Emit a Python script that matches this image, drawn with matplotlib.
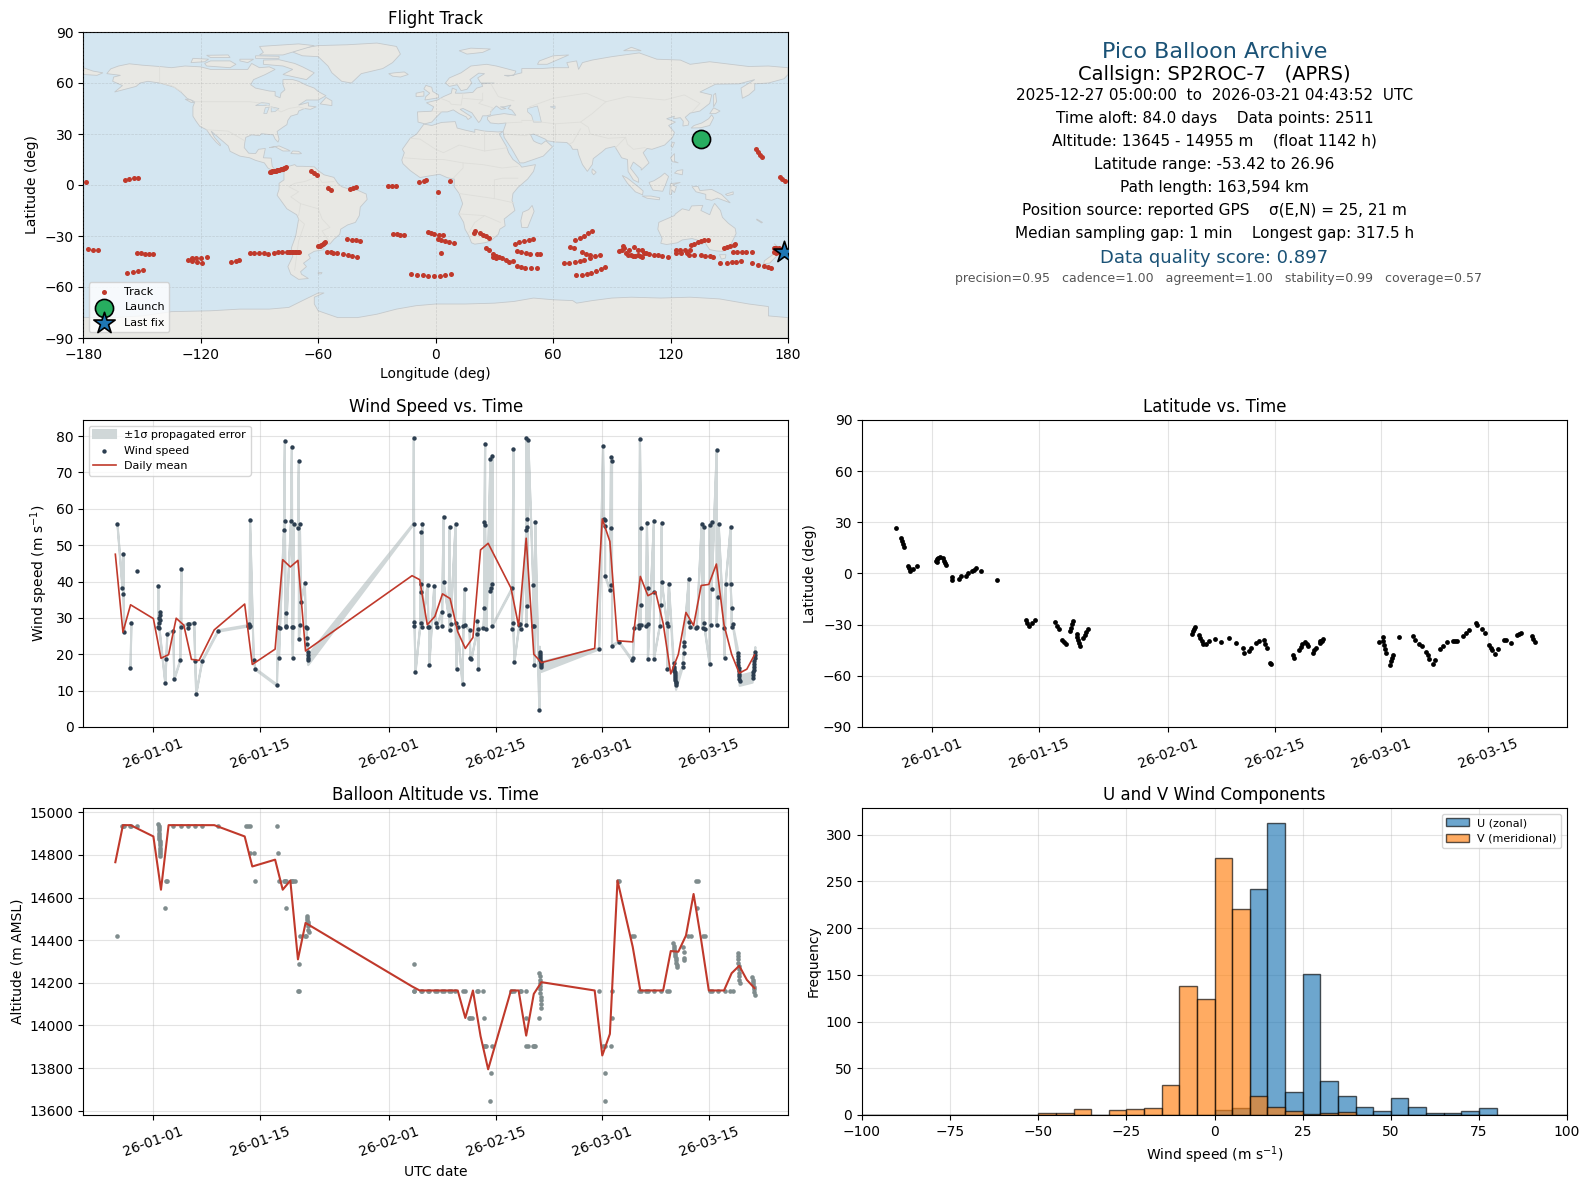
"""
plot.py
Painel de resumo do voo de um pico balloon: trajetória, vento, latitude, altitude e histograma.
"""

import numpy as np
import matplotlib
matplotlib.use('Agg')
import matplotlib.pyplot as plt
import matplotlib.dates as mdates

nan = np.nan

# Trajetória (lon, lat em graus)
track_lon = [-178.6, -158.5, -156.5, -154, -152.2, -177.4, -174.9, -172.3, -152.4, -150.5, -148.3, -146.3, -144.2,
             -157.5, -154.4, -151.9, -149.3, -126.3, -124.6, -124.3, -122.6, -124.5, -122.1, -119.2, -119.7, -116.6,
             -104.4, -102, -100.3, -94.7, -92.6, -90, -87.5, -85.5, -82.4, -80.3, -78.3,
             -75.7, -75, -74.2, -73.5, -72.7, -72, -71.2, -70.4, -69.6,
             -59.9, -59.2, -58.5, -57.8, -57, -56.5, -55.6, -53.6, -52.2, -50.2, -47.1, -44.6, -42.5, -40,
             -45.1, -42.5, -40.5, -38.4,
             -84.6, -84, -83.4, -82.8, -82.2, -81.6, -81, -80.4, -79.8, -79.2, -78.6, -78, -77.4, -76.8, -76.2,
             -63.6, -62.4, -60.4, -54.8, -53.3, -44, -42.4, -40.5, -24.1, -22.1, -20.4, -8.3, -6.2, -5,
             -21.6, -19.9, -18, -16, -3.7, -12.4, -9.3, -6.7, -3.7,
             -2.4, -0.7, 1.5, 3.6, 1, 7.2, 1, 2.7, 4.9, 7, 9.2, 2.6, -0.7, 2, 4.9, 7.7,
             19.4, 20.1, 22.7, 24, 25.7, 27.1, 25.7, 27.4, 29.5, 30.8, 32.5, 33.9, 35.9, 37.6, 39.4, 29.1, 30.8,
             41.4, 43.6, 45.8, 48.6, 51.6, 41.4, 43.8, 46.2, 48.4, 51.6, 53.3, 40.7, 42.8, 45.3, 47.9, 49.9,
             68.8, 70.9, 74.6, 76.8, 79, 81.4, 83.8, 65.4, 68.3, 71.4, 73.8, 76, 79,
             71.7, 74.6, 77.2, 79.4, 81.9, 84.5, 86.5, 71.4, 73.8, 76, 77.7, 79.7,
             93.5, 95.2, 97.3, 99.8, 102, 104.4, 106.6, 109.2, 111.4, 113.5, 115.5, 118.6,
             95.6, 96.1, 98.6, 101.5, 103.2, 105.3, 107.5, 98.1, 100.7, 103.2, 105.3,
             122.8, 122.8, 124.9, 125.4, 127.4, 128.3, 130, 129.6, 132.2, 135.6, 137.8, 139.9, 141.7,
             130.5, 132.2, 133.9, 135.6, 137.3, 139, 147.2, 148.9, 150.6, 152.3, 153,
             151.8, 153.8, 156.4, 158.6, 161.5, 145.5, 148.7, 151.4, 153.5, 156,
             161.5, 164.6, 167.6, 169.7, 171.4, 163.4, 164.6, 165.8, 166.8, 175.9, 176.8, 178.6,
             172.6, 173.2, 174, 174.6, 175.2, 176, 173, 174, 175, 176]
track_lat = [1.6, 2.9, 3.5, 4.1, 4.1, -37.6, -38.2, -38.2, -40, -40, -40.6, -40.6, -40.6,
             -51.8, -51.2, -50.6, -50, -43.9, -43.5, -42.9, -42.9, -44.9, -45.5, -45.9, -42.9, -42.4,
             -45.3, -44.5, -43.9, -40, -40, -40, -40, -40.6, -40, -39.4, -39.2,
             -39.4, -39.4, -39.4, -39.6, -39.4, -39.6, -39.4, -39.4, -39.6,
             -36.1, -35.6, -35.2, -34.7, -34.2, -33.7, -39.4, -39.4, -40, -40, -40.8, -41.2, -41.8, -42.4,
             -31.8, -32.4, -32.4, -32.9,
             7.6, 7.8, 8, 8.1, 8.3, 8.5, 8.7, 8.8, 9, 9.2, 9.4, 9.7, 9.9, 10.2, 10.5,
             8.4, 7.1, 5.9, -2, -3.1, -2.4, -1.8, -1.2, -0.4, -0.4, -0.6, 1.8, 2.5, 2.9,
             -28.6, -28.6, -29.4, -29.4, -27.6, -52.4, -52.9, -52.9, -53.5,
             -28.2, -28.8, -29.4, -29.4, -4.1, 2.4, -31.8, -32.4, -32.9, -33.5, -34.1, -40, -53.5, -53.5, -52.9, -52.4,
             -28.2, -27.1, -28.2, -29.4, -30.2, -31.2, -37.1, -38, -40.4, -42, -42.4, -42.9, -43.9, -45.3, -44.5, -42.4, -42.9,
             -47.5, -48.2, -48.8, -48.8, -48.8, -38.8, -39.6, -40, -40.4, -40.6, -40.6, -34.7, -33.5, -32.9, -32.4, -31.8,
             -36.3, -37.3, -39.2, -40.4, -41, -42, -41.2, -45.9, -45.9, -45.3, -44.5, -43.9, -42.7,
             -53.1, -52.9, -52.4, -51.8, -50.6, -49.4, -48.2, -32.5, -31.2, -29.8, -28.2, -26.9,
             -38.8, -38, -40, -41, -42, -42, -40, -40.8, -41.2, -41.4, -41.6, -42.5,
             -35.7, -37.1, -38, -36.7, -38, -38.4, -40, -41, -41.6, -41.4, -42.5,
             -38, -40, -38, -40, -38, -40, -38.4, -41, -41, -41.4, -41.6, -42, -42.5,
             -35.5, -34.5, -33.7, -33.1, -32.5, -32.2, -36.9, -36.3, -35.7, -35, -34.5,
             -39.4, -39.4, -39.4, -39.4, -39.4, -46.1, -46.1, -45.5, -45.3, -44.7,
             -45.9, -47.1, -47.6, -48, -48.8, 21.4, 19.6, 17.8, 16.5, 4.7, 3.7, 2.5,
             -37, -37.3, -37, -37.6, -37.2, -38, -39.5, -40, -39.6, -39]
launch_lon, launch_lat = 135.5, 26.96
last_lon, last_lat = 178.0, -39.5

# Velocidade do vento: dias desde 2026-01-01 (nan = quebra na faixa de erro)
wind_days = [-4.72, -4.06, -3.93, -3.93, -3.80, nan, -3.01, -2.88, nan, -2.10, nan,
             0.66, 0.66, 0.74, 0.79, 0.87, 0.92, 0.87, 0.79, 1.57, 1.70, 1.83, 2.62, 2.75, 3.54, 3.67, 3.67,
             4.50, 4.59, 4.63, 5.37, 5.50, 5.63, 6.42, 8.52, 12.45, 12.53, 12.58, 12.66, 12.71, 13.19, 13.41,
             16.24, 16.42, 16.51, 16.64, 17.16, 17.29, 17.29, 17.38, 17.42, 17.47, 18.08, 18.21, 18.25, 18.34, 18.38, 18.47,
             19.0, 19.13, 19.13, 19.26, 19.26, 19.39, 19.91, 20.04, 20.13, 20.17, 20.17, 20.31, 20.31, 20.31, 20.35,
             34.19, 34.24, 34.28, 34.32, 34.45, 35.11, 35.11, 35.24, 35.24, 35.37, 35.37, 36.03, 36.16,
             36.27, 36.27, 36.92, 37.10, 37.23, 37.88, 37.93, 38.14, 38.14, 38.80, 38.93, 38.93, 39.06, 39.72, 39.72, 39.85, 39.98,
             40.63, 40.76, 40.90, 40.90, 41.55, 41.68, 41.81, 42.47, 42.60, 42.73, 42.73, 43.38, 43.52, 43.52, 43.60, 43.60, 43.78,
             44.30, 44.30, 44.43, 44.56, 44.56, 44.56, 47.18, 47.18, 47.31, 47.31, 47.45, 48.10, 48.23, 48.36,
             49.02, 49.02, 49.02, 49.15, 49.15, 49.15, 49.28, 49.93, 49.93, 50.07, 50.07, 50.20, 50.72,
             50.78, 50.80, 50.83, 50.85, 50.88, 50.90, 50.93, 50.95, 50.98,
             58.58, 59.10, 59.24, 59.37, 59.37, 59.37, 60.02, 60.15, 60.15, 60.15, 60.28, 60.28, 61.20, 62.90, 63.03, 63.17,
             63.82, 63.82, 63.95, 64.08, 64.08, 64.08, 64.74, 64.87, 65.0, 65.0, 65.0, 65.79, 65.79, 65.79,
             66.57, 66.70, 66.83, 66.83, 67.49, 67.53, 67.62, 67.75,
             68.38, 68.42, 68.45, 68.48, 68.50, 68.53, 68.56, 68.58, 68.61, 68.64, 68.67, 68.70,
             69.59, 69.59, 69.72, 69.72, 69.72, 70.37, 70.37, 70.55, 71.29, 71.42, 72.07, 72.20, 72.33, 72.33, 72.47,
             73.12, 73.12, 73.25, 73.38, 73.38, 74.04, 74.04, 74.17, 74.30, 74.96, 75.09, 75.22, 75.87, 75.87, 76.0, 76.0, 76.14,
             76.80, 76.82, 76.85, 76.87, 76.90, 76.92, 76.95, 76.97, 77.0, 77.03, 77.05,
             78.76, 78.80, 78.84, 78.88, 78.92, 78.96, 79.0, 79.04, 79.08, 79.12]
wind_vals = [55.8, 38.2, 47.5, 36.5, 26.1, nan, 16.1, 28.7, nan, 42.8, nan,
             38.7, 27.6, 28.5, 29.9, 30.8, 31.7, 29.4, 27.2, 12.0, 18.6, 25.5, 26.4, 13.1, 18.3, 43.4, 27.4,
             28.3, 27.2, 28.3, 28.5, 18.1, 9.0, 18.1, 26.4, 27.8, 27.5, 28.3, 27.8, 56.9, 18.3, 15.9,
             11.5, 27.4, 18.9, 27.2, 54.1, 78.6, 56.6, 27.4, 31.3, 27.7, 56.6, 77.0, 27.4, 18.9, 27.4, 55.8,
             54.8, 73.1, 24.1, 28.0, 55.8, 34.3, 39.5, 27.4, 27.2, 24.4, 22.8, 20.7, 19.8, 18.9, 18.4,
             55.8, 79.4, 27.7, 28.8, 15.0, 28.5, 37.1, 53.6, 39.3, 55.8, 27.4, 39.1, 27.6,
             27.6, 17.0, 38.8, 28.5, 27.4, 31.6, 27.8, 57.8, 39.8, 30.7, 55.0, 26.7, 28.3, 55.8, 28.5, 15.9, 27.4,
             11.7, 27.7, 37.9, 28.0, 26.7, 18.9, 18.6, 25.6, 29.1, 15.9, 27.0, 27.2, 32.7, 56.4, 77.8, 55.6, 26.9,
             73.7, 37.5, 38.3, 74.6, 39.4, 27.8, 38.2, 26.9, 76.4, 28.5, 17.8, 28.1, 28.3, 26.9,
             54.2, 79.4, 28.0, 55.0, 57.2, 33.2, 78.9, 39.1, 27.9, 27.8, 17.0, 56.3, 4.8,
             20.7, 20.0, 19.5, 19.0, 18.5, 18.0, 17.5, 17.0, 16.5,
             21.5, 77.2, 57.2, 57.0, 55.2, 41.6, 37.6, 74.1, 54.8, 39.1, 73.1, 22.3, 23.4, 18.4, 19.1, 27.2,
             28.1, 27.2, 79.2, 54.7, 33.6, 28.1, 27.8, 56.1, 38.2, 28.3, 18.7, 56.7, 37.2, 18.7,
             27.8, 33.6, 56.1, 39.8, 28.5, 15.9, 27.8, 39.4,
             17.5, 16.5, 16.0, 15.5, 15.0, 14.5, 14.0, 13.5, 13.0, 12.5, 12.0, 11.6,
             16.6, 17.5, 20.3, 22.3, 23.5, 40.6, 29.0, 27.5, 27.2, 27.6, 55.9, 27.2, 55.1, 28.5, 27.0,
             17.2, 55.6, 28.0, 56.3, 38.0, 76.1, 28.0, 35.7, 55.8, 27.2, 18.9, 39.4, 55.0, 39.4, 32.7, 27.6, 28.3,
             20.3, 19.5, 18.7, 17.9, 17.1, 16.3, 15.5, 14.7, 13.9, 13.2, 12.7,
             13.6, 14.3, 15.0, 15.8, 16.6, 17.4, 18.2, 19.0, 19.8, 20.6]
# Erro: pequeno nos pontos esparsos, grande nos trechos de amostragem densa
wind_sigma_sparse = 0.2
wind_sigma_dense = 1.4
dense_spans = [(20.2, 20.4), (50.75, 51.0), (68.35, 68.75), (76.75, 77.1), (78.7, 79.15)]

# Médias diárias
daily_days = [-5, -4, -3, 0, 1, 2, 3, 4, 5, 6, 8, 12, 13, 16, 17, 18, 19, 20, 34, 35, 36, 37, 38, 39, 40, 41, 42, 43, 44,
              47, 48, 49, 50, 51, 58, 59, 60, 61, 63, 64, 65, 66, 67, 68, 69, 70, 71, 72, 73, 74, 75, 76, 77, 78, 79]
daily_wind = [47.5, 26.1, 33.6, 29.8, 18.9, 19.9, 29.9, 28.0, 18.6, 18.3, 26.7, 33.8, 17.2, 21.4, 46.0, 44.0, 45.8, 20.9,
              41.6, 40.5, 28.1, 30.4, 36.6, 35.3, 26.2, 21.6, 24.6, 48.7, 50.5, 38.2, 27.8, 51.9, 20.0, 17.7, 21.6, 57.2,
              51.0, 23.7, 23.4, 41.4, 36.1, 37.2, 28.5, 14.6, 20.0, 31.5, 27.9, 38.9, 39.2, 44.8, 28.1, 20.0, 14.8, 15.9, 19.8]
daily_alt = [14766, 14940, 14940, 14887, 14637, 14940, 14940, 14940, 14940, 14940, 14940, 14887, 14746, 14778, 14637, 14680,
             14310, 14481, 14183, 14164, 14164, 14164, 14164, 14164, 14164, 14035, 14164, 13950, 13794, 14164, 14164, 13952,
             14148, 14203, 14164, 13859, 13960, 14680, 14369, 14164, 14164, 14164, 14164, 14349, 14346, 14422, 14617, 14400,
             14164, 14164, 14164, 14245, 14280, 14214, 14175]

# Altitude
alt_days = [-4.72, -4.06, -3.93, -3.8, -3.01, -2.88, -2.1,
            0.66, 0.68, 0.70, 0.72, 0.74, 0.76, 0.78, 0.80, 0.82, 0.84, 0.85, 0.87, 0.88, 0.90, 0.91, 0.92,
            1.79, 1.7, 1.57, 2.62, 3.62, 4.5, 5.5, 6.42, 8.52, 12.23, 12.45, 12.66, 12.66, 13.19, 13.41,
            16.24, 16.38, 16.51, 17.16, 17.29, 17.42, 17.38, 18.08, 18.21, 18.38, 18.56, 19.26, 19.08, 19.0, 19.17, 19.91, 20.09,
            20.17, 20.2, 20.24, 20.27, 20.3, 20.33, 20.36, 20.39,
            34.19, 34.19, 34.32, 35.11, 35.37, 36.03, 36.27, 37.05, 37.23, 37.88, 38.14, 38.9, 39.06, 39.67,
            40.63, 40.98, 41.51, 41.68, 41.86, 42.6, 42.73, 43.38, 43.52, 43.43, 43.6, 43.78, 44.56, 44.43, 44.3,
            47.18, 47.05, 47.45, 48.23, 48.36, 49.02, 49.02, 49.02, 49.28, 49.93, 50.07, 50.2, 50.72,
            50.72, 50.75, 50.78, 50.8, 50.83, 50.85, 50.87, 50.9, 50.92, 50.95, 50.98,
            58.58, 59.1, 59.37, 59.37, 59.4, 60.15, 60.28, 60.28, 61.07, 61.2, 62.9, 63.17, 63.82, 64.08, 64.74, 65.0, 65.79, 66.7, 67.49, 67.75,
            68.36, 68.4, 68.44, 68.48, 68.52, 68.56, 68.6, 68.64, 68.68, 68.72, 68.76, 68.8,
            69.59, 69.72, 69.72, 69.72, 70.33, 70.63, 71.29, 71.55, 71.42, 72.2, 72.47, 73.12, 73.38, 74.17, 75.09, 75.83, 76.14,
            76.8, 76.83, 76.86, 76.89, 76.92, 76.95, 76.98, 77.0, 77.03, 77.05,
            78.7, 78.75, 78.8, 78.85, 78.9, 78.95, 79.0, 79.06]
alt_vals = [14420, 14935, 14935, 14935, 14935, 14935, 14935,
            14945, 14935, 14925, 14915, 14905, 14895, 14885, 14875, 14865, 14855, 14845, 14835, 14825, 14815, 14805, 14795,
            14680, 14680, 14550, 14935, 14935, 14935, 14935, 14935, 14935, 14935, 14935, 14935, 14810, 14810, 14680,
            14935, 14810, 14680, 14680, 14680, 14680, 14550, 14680, 14680, 14680, 14680, 14420, 14290, 14160, 14160, 14420, 14420,
            14512, 14505, 14495, 14485, 14475, 14465, 14450, 14440,
            14290, 14160, 14160, 14160, 14160, 14160, 14160, 14160, 14160, 14160, 14160, 14160, 14160, 14160,
            14160, 14160, 14035, 14035, 14035, 14160, 14160, 14160, 14035, 13905, 13905, 13905, 13905, 13775, 13645,
            14160, 14160, 14160, 14160, 14160, 14160, 14035, 13905, 13905, 13905, 13905, 13905, 14035,
            14245, 14230, 14215, 14200, 14185, 14170, 14150, 14135, 14120, 14100, 14080,
            14160, 13905, 13775, 13645, 13905, 13905, 14160, 14035, 14680, 14680, 14420, 14420, 14160, 14160, 14160, 14160, 14160, 14160, 14160, 14160,
            14385, 14375, 14365, 14355, 14345, 14335, 14325, 14315, 14305, 14295, 14285, 14275,
            14367, 14345, 14315, 14305, 14420, 14420, 14680, 14680, 14550, 14420, 14420, 14160, 14160, 14160, 14160, 14160, 14160,
            14340, 14325, 14310, 14295, 14280, 14265, 14245, 14230, 14215, 14200,
            14225, 14215, 14205, 14195, 14180, 14170, 14155, 14145]

# Latitude
lat_days = [-4.74, -4.09, -4.0, -3.87, -3.74, -3.16, -3.05, -2.87, -2.5, -1.93,
            0.53, 0.65, 0.8, 0.99, 0.6, 1.46, 1.6, 1.75, 1.87, 2.63, 2.63, 3.51, 3.74, 4.39, 4.68, 5.26, 5.5, 5.73, 6.43, 8.54,
            12.28, 12.5, 12.69, 13.1, 13.5, 16.2, 16.45, 16.67, 17.13, 17.35, 17.6, 18.54, 18.4, 18.27, 18.13,
            19.0, 19.1, 19.2, 19.3, 19.4, 20.47, 20.25, 20.05, 19.88,
            34.15, 34.27, 34.4, 34.5, 35.09, 35.25, 35.4, 35.56, 35.96, 36.37, 37.13, 38.0, 38.95, 39.88,
            40.82, 41.0, 41.64, 41.93, 42.57, 43.0, 43.57, 43.75, 43.98, 44.4, 44.55,
            47.37, 47.5, 48.2, 48.4, 48.65, 49.0, 49.2, 49.4, 50.0, 50.2, 50.4, 50.9, 51.1, 51.3, 51.0, 51.25,
            58.7, 59.2, 59.3, 59.4, 59.5, 59.6, 60.2, 60.3, 60.4, 60.5, 61.3, 63.2, 63.4, 64.0, 64.3, 64.9, 65.1, 65.3, 65.8, 66.1,
            66.7, 67.1, 67.7, 68.4, 68.7, 69.0, 69.7, 70.1, 70.6, 71.5, 71.55, 72.2, 72.6, 73.2, 73.4, 73.6, 74.0, 74.3,
            75.1, 75.4, 76.0, 76.9, 77.15, 77.4, 78.8, 79.0, 79.2]
lat_vals = [26.5, 21, 19.2, 17.2, 15.3, 4.5, 3.3, 1.4, 2.9, 4.3,
            7.3, 8.5, 9.2, 9.8, 6.5, 8.8, 7.5, 6.2, 4.9, -3.9, -2, -3.3, -1.6, -1.2, 0, 1.2, 2.2, 3.3, 1.6, -4.1,
            -27, -28.8, -30.6, -29, -27.3, -28.6, -30.5, -32.4, -38.8, -40, -41.2, -28, -29.8, -31.8, -33.7,
            -35.3, -37.2, -39, -40.9, -42.7, -32.4, -34.2, -36, -38,
            -35.3, -34, -32.7, -31.4, -36.3, -38, -39.6, -41.2, -41.6, -39.8, -38.2, -40.2, -37.8, -40.6,
            -43.7, -46.5, -45.5, -43.7, -40.6, -39.6, -39.2, -41.3, -43.5, -52.2, -53.2,
            -47.5, -49.4, -44.7, -43.2, -41.6, -40, -41.3, -42.5, -46.7, -45.1, -43.5, -40.8, -39.5, -38.2, -39.4, -39.4,
            -40, -37.3, -39.6, -42, -44.3, -46.5, -53.4, -51.3, -49.5, -47.6, -37, -36.9, -38.8, -41.6, -42.7, -46, -48, -50, -52.9, -50.6,
            -44.5, -42.5, -40.2, -39.6, -39.6, -39.6, -36.7, -34.7, -33, -28.8, -30.4, -32.4, -34.7, -42.2, -43.7, -45.1, -47, -44.5,
            -39.2, -38.8, -40.6, -36.3, -35.6, -34.9, -36.7, -38.5, -40.2]

# Histograma (caixas de 5 m/s)
hist_edges = list(range(-100, 105, 5))
u_bins = [0, 5, 10, 15, 20, 25, 30, 35, 40, 45, 50, 55, 60, 65, 70, 75]
u_counts = [5, 7, 242, 313, 25, 151, 36, 20, 9, 4, 18, 9, 2, 2, 4, 7]
v_bins = [-50, -45, -40, -30, -25, -20, -15, -10, -5, 0, 5, 10, 15, 20, 25, 30, 35]
v_counts = [2, 2, 6, 5, 6, 8, 32, 138, 124, 275, 220, 20, 9, 4, 1, 2, 3]

info_lines = [
    "2025-12-27 05:00:00  to  2026-03-21 04:43:52  UTC",
    "Time aloft: 84.0 days    Data points: 2511",
    "Altitude: 13645 - 14955 m    (float 1142 h)",
    "Latitude range: -53.42 to 26.96",
    "Path length: 163,594 km",
    "Position source: reported GPS    σ(E,N) = 25, 21 m",
    "Median sampling gap: 1 min    Longest gap: 317.5 h",
]
scores_line = "precision=0.95   cadence=1.00   agreement=1.00   stability=0.99   coverage=0.57"

# Contornos aproximados dos continentes
north_america = [(-168,65.5),(-166,68.3),(-162,70),(-156.5,71.3),(-150,70.5),(-141,69.7),(-135,69),(-128,70),(-120,69.5),
    (-115,68),(-108,68),(-100,68),(-96,68),(-94,71.5),(-90,69),(-85,69.5),(-82,68),(-87,65),(-93,62),(-94.5,59),(-92,57),
    (-85,55.3),(-82,55),(-82,52.5),(-79.5,51.3),(-79,54),(-77,56),(-78,59),(-78,62),(-73,62),(-70,61),(-66,58.7),(-62,57),
    (-60,55),(-56,52.5),(-60,50),(-66,50),(-70,47),(-65,48.5),(-65,46.5),(-61,46),(-64,44.5),(-67,45),(-70,43.5),(-70.5,41.7),
    (-74,40.5),(-75.5,38),(-76,35.5),(-78,34),(-81,31.5),(-80,27),(-80.5,25.2),(-82,27),(-83,29.5),(-85,29.7),(-89,30.2),
    (-90,29),(-94,29.5),(-97,28),(-97.5,25),(-97.8,22),(-95.5,18.7),(-92,18.5),(-90.5,21),(-87,21.5),(-88,16),(-84,15.8),
    (-83.5,11),(-82,9),(-79.5,9.5),(-77.3,8.5),(-78,7.5),(-80,7.3),(-83,8.3),(-85.7,10),(-87.5,13),(-92,14.5),(-95,16),
    (-100,17),(-105,19.8),(-106,23),(-109,26),(-112.5,29.5),(-114.7,31.7),(-113,28),(-110,24),(-110,23),(-112,25),(-115,29),
    (-117,32.5),(-120.5,34.5),(-122.5,37.7),(-124,40.5),(-124,46),(-123,49),(-127,51),(-130,54.5),(-133.5,57.5),(-137,58.7),
    (-141,60),(-147,61),(-151,60),(-153,58),(-158,56.5),(-164,54.7),(-160,58.5),(-165,61),(-164.5,63.5),(-161,64.5)]
south_america = [(-77.3,8.5),(-75,11),(-72,12),(-71,11),(-68,11),(-62,10.7),(-60,8.5),(-57,6),(-52,4.5),(-50,1),(-48,-1),
    (-44,-2.5),(-40,-3),(-35.5,-5.3),(-35,-8.5),(-38.5,-13),(-39,-18),(-41,-22),(-45,-23.5),(-48.5,-26),(-49,-29),(-52,-32),
    (-54,-34.7),(-58,-34.5),(-57,-38),(-62,-39),(-65,-41),(-64,-43),(-67.5,-46),(-66,-48),(-69,-51),(-68.5,-52.5),(-65,-55),
    (-70,-55.5),(-74,-52.5),(-75.5,-48),(-73,-42),(-73.7,-37),(-71.5,-30),(-70,-20),(-71,-17.5),(-76,-14),(-81,-6),(-80,-2.5),
    (-80,1),(-77.5,3),(-77.5,7)]
africa = [(-6,35.8),(-2,35),(3,36.8),(10,37.3),(11,33.5),(15,32.3),(20,31),(20,32.8),(25,31.7),(32,31.2),(34.5,31.5),(32.5,30),
    (34,27),(36,23),(37.3,19),(39.5,15),(43,12),(44,10.5),(51,12),(50,8),(47,3.5),(42,-1.5),(39.5,-5),(39,-9),(40.5,-15),
    (35,-20),(35.5,-24),(32.8,-26),(32,-29),(28,-33),(25,-34),(20,-34.8),(18.3,-34),(17,-30),(15,-26),(14.3,-22),(11.8,-17),
    (13.8,-11),(12,-5),(9.5,-1),(9.5,3.5),(6,4.3),(2,6.3),(-4,5.2),(-8,4.4),(-13,8.5),(-16.7,12.5),(-17.3,14.7),(-16,19),
    (-17,21),(-13,27.5),(-9.7,30)]
eurasia = [(-9,37),(-9.3,43),(-2,43.4),(-1,46),(-4.7,48.4),(1,50),(4,52),(8,54),(8.5,57),(10.7,56),(10,54),(14,54),(19,54.5),
    (21,57),(24,58),(23.5,59.5),(30,60),(23,60),(21.5,63),(25,65.5),(22,65.8),(17.5,62),(18.5,60),(16,56.3),(13,55.5),(11,59),
    (7,58),(5,60),(7,63),(13,66),(18,70),(26,71),(31,70),(41,67),(40,64.5),(35,64.5),(37,64),(44,66),(44,68.5),(54,68.5),
    (60,69),(68,69),(67,72),(72,73),(73,68),(75,72),(80,73.5),(90,75.5),(104,77.7),(113,74),(125,73.5),(130,71),(140,72.5),
    (160,69.7),(170,70),(180,69),(180,65),(178,62.5),(170,60),(163,59.5),(163,56),(160,53),(156.7,51),(156,57),(163,62),
    (155,59.5),(143,59.3),(135,54.7),(141,53),(140,48),(135,43.5),(130,42.3),(127.5,39.8),(129.4,37),(129,35.2),(126.3,34.7),
    (126.5,37.5),(125,39.6),(121.5,39),(122,40.5),(118,39),(122.5,37),(119,35),(122,31),(121,28),(117,23.5),(110.5,21),
    (108,21.5),(106,19),(109,13),(105,8.7),(105,10),(101,13.5),(99.5,10),(103.5,4),(103.7,1.5),(101,3),(98.3,8),(98,15),
    (95,16),(94,18),(91.5,22.7),(87,21.5),(85,19.5),(80.5,15.5),(80,12),(77.5,8),(75,12),(73,18),(72.5,21),(70,21),(69,23),
    (67,25),(61,25.3),(57,26),(56,27),(50,30),(48.5,29.5),(50,26),(51.5,25),(54,24),(56.3,26),(59.7,22.5),(55,17),(45,13),
    (43,13),(39,21),(35,28),(34.5,31.5),(36,36.5),(32,36),(28,36.5),(26.5,38.5),(26.5,40),(29,41),(35,42),(41,41),(39,44),
    (37,45),(38.5,47),(35,46),(33,46),(36,45),(33.5,44.5),(31,46.5),(28,43),(28,41.3),(26,40.7),(24,40.7),(23,38),(22,36.7),
    (20,40),(18.5,42.5),(14,45),(12.5,44.5),(16,41.8),(18.4,40),(16.5,38.5),(15.7,40),(12,42),(9,44.2),(6,43),(3,43),(0,39.5),
    (-2,37),(-5.5,36)]
australia = [(114,-22),(116.7,-20.6),(122,-18),(122.5,-17),(126,-14),(129.5,-15),(130.8,-12.3),(136.5,-12),(135.5,-15),
    (140,-17.5),(141.5,-13),(142.5,-10.8),(145.5,-15),(146.5,-19),(149.5,-22.5),(153,-25.5),(153.5,-28.5),(150.8,-35),
    (150,-37.5),(146.5,-39),(143.5,-38.8),(140,-38),(138.5,-35.5),(137.5,-33.5),(136,-35),(134,-32.5),(131,-31.5),(126,-32.3),
    (123.5,-34),(118,-35),(115,-34.3),(115.7,-31.5),(113.5,-26)]
antarctica = [(-180,-78),(-165,-78),(-150,-77),(-135,-74.5),(-115,-74),(-100,-73),(-85,-73),(-75,-72),(-68,-68),(-60,-63.5),
    (-57,-63.5),(-62,-66),(-62,-70),(-60,-74),(-50,-78),(-40,-78),(-30,-76),(-20,-73),(-10,-71),(0,-70),(15,-70),(30,-69.5),
    (40,-68.5),(50,-66.5),(60,-67.5),(70,-68),(72,-69.5),(80,-68),(90,-66.5),(100,-66),(115,-66.5),(130,-66),(145,-67),
    (160,-70),(170,-71.5),(170,-77),(180,-78),(180,-90),(-180,-90)]
islands = [
    [(-73,78.2),(-68,80.5),(-60,82),(-45,82.5),(-30,83.5),(-20,81.5),(-18,77),(-22,72),(-27,68.5),(-38,65.5),(-43,60),(-48,61),(-53,66),(-55,70),(-60,75.5),(-68,76)],
    [(-62,66),(-66,62),(-72,63.5),(-78,65),(-73,68),(-78,70),(-88,71),(-88,73.5),(-80,73.7),(-72,71.5),(-68,69.5)],
    [(-117,70),(-105,69),(-102,71),(-105,73),(-115,73),(-118,71.5)],
    [(-90,76.5),(-78,76.5),(-62,82),(-70,83),(-90,81.5),(-88,78)],
    [(-125,72),(-118,72.5),(-116,74),(-124,74.5)],
    [(-92,74.5),(-80,74.5),(-80,75.7),(-92,76)],
    [(-115,75),(-105,75),(-106,76.5),(-117,76.3)],
    [(-100,73),(-96,72),(-93,74),(-100,74)],
    [(-59,47.7),(-53,46.7),(-53,49.5),(-56,51.5)],
    [(-85,22),(-80,23),(-75,20.5),(-74.3,20),(-78,20),(-82,22.5)],
    [(-74,18.5),(-70,18.3),(-68.5,18.5),(-70,19.8),(-73,20)],
    [(-128,50.5),(-125,48.6),(-123.5,48.5),(-125,50)],
    [(-5.5,50),(1.5,51.3),(1.5,53),(-1.5,55),(-2,57.5),(-5,58.6),(-6,56.5),(-3,54),(-5,52)],
    [(-10,52),(-6,52.3),(-6,55),(-10,54)],
    [(-24,65.5),(-22,64),(-18,63.5),(-14,65),(-16,66.5),(-21,66)],
    [(12,79),(16,77),(24,78),(28,80),(18,80.5)],
    [(52,71),(57,71),(68,76.5),(60,76),(53,73)],
    [(96,79),(105,79),(100,81)],
    [(142,46),(143.5,49),(143,54),(142,53)],
    [(130.5,33.5),(135.5,33.7),(140,35),(142,39.5),(141,41.3),(139.5,39),(136,36.5),(132,35)],
    [(140,42),(143,42),(145.3,43.5),(142,45.4)],
    [(120.2,23),(121,22),(122,25),(121,25.2)],
    [(120,16),(122,18.5),(122,14),(124,13),(121,13.7)],
    [(122,7),(126,6),(126.3,9),(123.5,8.5)],
    [(109,1.5),(111.5,2.5),(115,5),(117,7),(119,5),(117.7,1),(116,-3.7),(111,-3),(110,-1)],
    [(95.3,5.6),(98,4),(103.5,-1),(106,-3.5),(105.7,-5.8),(102,-4),(98,1)],
    [(105.5,-6.5),(110,-6.5),(114.5,-7.5),(114.3,-8.7),(108,-7.8)],
    [(119.5,-5.5),(120,0.8),(125,1.5),(121,0),(123,-1),(122,-4.5),(120.8,-3),(120.5,-5.5)],
    [(131,-1),(134,-0.8),(135,-3.3),(141,-2.6),(146,-5.5),(150.5,-10.5),(144,-7.7),(141,-9),(138,-8.3),(138,-5.5),(133,-4)],
    [(80,9.5),(82,7.5),(80.7,6),(79.8,7.5)],
    [(49.3,-12),(50.3,-15.5),(47,-25),(44,-25),(43.5,-21),(44.5,-16),(47.5,-14.5)],
    [(145,-41),(148.3,-41),(148,-43),(146,-43.6)],
    [(173,-34.5),(176,-37.5),(178.5,-37.7),(177,-39.5),(175.3,-41.6),(174.8,-39.8),(174.5,-36.8)],
    [(172.7,-40.6),(174.3,-41.7),(170.7,-45.9),(167.5,-46.5),(168,-44.5)],
    [(-180,69),(-175,67),(-170,66),(-173,64.5),(-180,65)],
    [(164,-20),(167,-22),(166.5,-22.3),(164,-20.5)],
    [(148,-5.5),(152,-4),(152,-5.5),(149,-6.2)],
    [(-60,-51.5),(-58,-51.5),(-58.5,-52.3),(-60,-52.2)],
]
lakes = [
    [(47,45),(52,46.5),(53,42),(54,37),(50,37),(49,41),(47,43)],
    [(-92,46.7),(-85,46.7),(-85,48),(-89,48.5)],
    [(-87.8,42),(-86.3,42),(-85,45.8),(-87,45.5)],
    [(-84,43),(-82,43.2),(-80,45),(-84,46)],
    [(58.5,46),(61,45),(61,46.5)],
]
borders = [
    [(-123,49),(-95,49),(-88,48),(-82.5,45),(-79,43),(-75,45),(-70,46),(-67,45)],
    [(-141,69.7),(-141,60),(-135,58.5),(-130,55)],
    [(-117,32.5),(-106,31.7),(-97.5,26)],
    [(-70,-18),(-69,-11),(-74,-7),(-70,-4),(-75,-1),(-72,1),(-67,2),(-60,5),(-58,1.5),(-52,2)],
    [(-69,-11),(-60,-14),(-58,-20),(-54,-25),(-58,-27),(-54,-34)],
    [(-70,-20),(-67,-23),(-70,-33),(-72,-50)],
    [(-13,27.5),(-8,27),(0,21),(4,19),(12,23.5),(25,20),(25,31.7)],
    [(25,20),(37,22)],
    [(-16,16),(-5,15),(4,15),(14,13),(24,12),(34,10),(42,11)],
    [(9,4),(14,10),(14,13)],
    [(12,-5),(30,-8),(40,-10.5)],
    [(30,-8),(30,3),(34,4),(42,4)],
    [(12,-17),(25,-18),(33,-22)],
    [(17,-28),(20,-22),(25,-18)],
    [(48,46),(60,51),(77,54),(87,49),(98,52),(117,50),(127,53),(135,48),(131,43)],
    [(87,49),(80,42),(74,37),(78,34),(79,30),(88,27.5),(97,28),(98,24),(101,21),(107,22)],
    [(61,36),(74,37)],
    [(61,25.3),(61,36)],
    [(44,38),(48,38),(54,37),(61,36)],
    [(44,37),(36,36.5)],
    [(35,30),(46,29),(48,30)],
    [(-2,43.4),(3,43)],
    [(2.5,51),(7,49),(8,47.5),(13,47),(14,54)],
    [(24,50),(14,51)],
    [(24,54),(24,50),(22,48),(29,45.5),(28,42)],
    [(28,60),(32,52),(40,49.5)],
    [(74,33),(70,25),(68,24)],
    [(97,28),(92,22)],
]

W, H = 1590, 1189
COR_VENTO = '#2c3e50'
COR_ALT = '#7f8c8d'
COR_MEDIA = '#c0392b'
COR_TITULO = '#1a5276'
COR_MAR = '#d4e6f1'
COR_TERRA = '#e8e8e4'
EPOCA = mdates.date2num(np.datetime64('2026-01-01'))


def painel(fig, esq, dir, topo, base):
    """Cria um eixo a partir de posições em pixels."""
    return fig.add_axes([esq / W, 1 - base / H, (dir - esq) / W, (base - topo) / H])


def eixo_tempo(ax):
    """Formata o eixo x com datas a cada 1 e 15 do mês."""
    ax.set_xlim(EPOCA - 9.21, EPOCA + 83.41)
    ax.xaxis.set_major_locator(mdates.DayLocator(bymonthday=(1, 15)))
    ax.xaxis.set_major_formatter(mdates.DateFormatter('%y-%m-%d'))
    ax.tick_params(axis='x', labelrotation=20)
    ax.grid(True, alpha=0.35)


def desenhar_mapa(ax):
    ax.set_facecolor(COR_MAR)
    for contorno in [north_america, south_america, africa, eurasia, australia, antarctica] + islands:
        xs, ys = zip(*contorno)
        ax.fill(xs, ys, facecolor=COR_TERRA, edgecolor='#c4c9cc', linewidth=0.6, zorder=1)
    for contorno in lakes:
        xs, ys = zip(*contorno)
        ax.fill(xs, ys, facecolor=COR_MAR, edgecolor='#c4c9cc', linewidth=0.5, zorder=1.1)
    for linha in borders:
        xs, ys = zip(*linha)
        ax.plot(xs, ys, color='#dededa', linewidth=0.6, zorder=1.2)
    ax.grid(True, color='gray', linestyle='--', linewidth=0.5, alpha=0.25, zorder=1.5)
    ax.set_axisbelow(False)

    ax.scatter(track_lon, track_lat, s=13, color=COR_MEDIA, linewidths=0, zorder=3, label='Track')
    ax.scatter([launch_lon], [launch_lat], s=170, color='#27ae60', edgecolors='black', linewidths=1.2, zorder=4, label='Launch')
    ax.scatter([last_lon], [last_lat], s=260, marker='*', color='#1f77b4', edgecolors='black', linewidths=1.2, zorder=4, label='Last fix')
    ax.set_xlim(-180, 180)
    ax.set_ylim(-90, 90)
    ax.set_xticks(range(-180, 181, 60))
    ax.set_yticks(range(-90, 91, 30))
    ax.set_xlabel('Longitude (deg)')
    ax.set_ylabel('Latitude (deg)')
    ax.set_title('Flight Track', fontsize=12)
    ax.legend(loc='lower left', fontsize=8)


def desenhar_texto(fig):
    fig.text(1214.5 / W, 1 - 52 / H, 'Pico Balloon Archive', fontsize=16, color=COR_TITULO, ha='center', va='center')
    fig.text(1214.5 / W, 1 - 74 / H, 'Callsign: SP2ROC-7   (APRS)', fontsize=14, color='black', ha='center', va='center')
    for linha, y in zip(info_lines, [95, 118, 141, 164.3, 187.3, 210, 233.4]):
        fig.text(1214.5 / W, 1 - y / H, linha, fontsize=11, ha='center', va='center')
    fig.text(1214.5 / W, 1 - 258 / H, 'Data quality score: 0.897', fontsize=13, color=COR_TITULO, ha='center', va='center')
    fig.text(1218.5 / W, 1 - 278.8 / H, scores_line, fontsize=9, color='#555555', ha='center', va='center')


def desenhar_vento(ax):
    t = EPOCA + np.array(wind_days)
    v = np.array(wind_vals)
    sigma = np.full(len(wind_days), wind_sigma_sparse)
    for ini, fim in dense_spans:
        sigma[(np.array(wind_days) >= ini) & (np.array(wind_days) <= fim)] = wind_sigma_dense
    ax.fill_between(t, v - sigma, v + sigma, color='#d0d7d8', linewidth=1.5, zorder=1, label='±1σ propagated error')
    ax.scatter(t, v, s=10, color=COR_VENTO, linewidths=0, zorder=3, label='Wind speed')
    ax.plot(EPOCA + np.array(daily_days), daily_wind, color=COR_MEDIA, linewidth=1.2, zorder=4, label='Daily mean')
    eixo_tempo(ax)
    ax.set_ylim(0, 84.4)
    ax.set_yticks(range(0, 81, 10))
    ax.set_ylabel('Wind speed (m s$^{-1}$)')
    ax.set_title('Wind Speed vs. Time', fontsize=12)
    ax.legend(loc='upper left', fontsize=8)


def desenhar_latitude(ax):
    ax.scatter(EPOCA + np.array(lat_days), lat_vals, s=12, color='black', linewidths=0, zorder=3)
    eixo_tempo(ax)
    ax.set_ylim(-90, 90)
    ax.set_yticks(range(-90, 91, 30))
    ax.set_ylabel('Latitude (deg)')
    ax.set_title('Latitude vs. Time', fontsize=12)


def desenhar_altitude(ax):
    ax.scatter(EPOCA + np.array(alt_days), alt_vals, s=11, color=COR_ALT, linewidths=0, zorder=3)
    ax.plot(EPOCA + np.array(daily_days), daily_alt, color=COR_MEDIA, linewidth=1.5, zorder=4)
    eixo_tempo(ax)
    ax.set_ylim(13579.5, 15020.5)
    ax.set_yticks(range(13600, 15001, 200))
    ax.set_xlabel('UTC date')
    ax.set_ylabel('Altitude (m AMSL)')
    ax.set_title('Balloon Altitude vs. Time', fontsize=12)


def desenhar_histograma(ax):
    ax.hist(u_bins, bins=hist_edges, weights=u_counts, color='#1f77b4', alpha=0.65, edgecolor='black', label='U (zonal)')
    ax.hist(v_bins, bins=hist_edges, weights=v_counts, color='#ff7f0e', alpha=0.65, edgecolor='black', label='V (meridional)')
    ax.set_xlim(-100, 100)
    ax.set_ylim(0, 328.65)
    ax.set_xticks(range(-100, 101, 25))
    ax.set_yticks(range(0, 301, 50))
    ax.grid(True, alpha=0.35)
    ax.set_axisbelow(True)
    ax.set_xlabel('Wind speed (m s$^{-1}$)')
    ax.set_ylabel('Frequency')
    ax.set_title('U and V Wind Components', fontsize=12)
    ax.legend(loc='upper right', fontsize=8)


if __name__ == "__main__":
    fig = plt.figure(figsize=(15.9, 11.89), dpi=100)

    desenhar_mapa(painel(fig, 83.3, 788, 32, 338))
    desenhar_texto(fig)
    desenhar_vento(painel(fig, 83.3, 788, 420, 727))
    desenhar_latitude(painel(fig, 862, 1567, 420, 727))
    desenhar_altitude(painel(fig, 83.3, 788, 808, 1115))
    desenhar_histograma(painel(fig, 862, 1567, 808, 1115))

    fig.savefig('out.png', dpi=100)
